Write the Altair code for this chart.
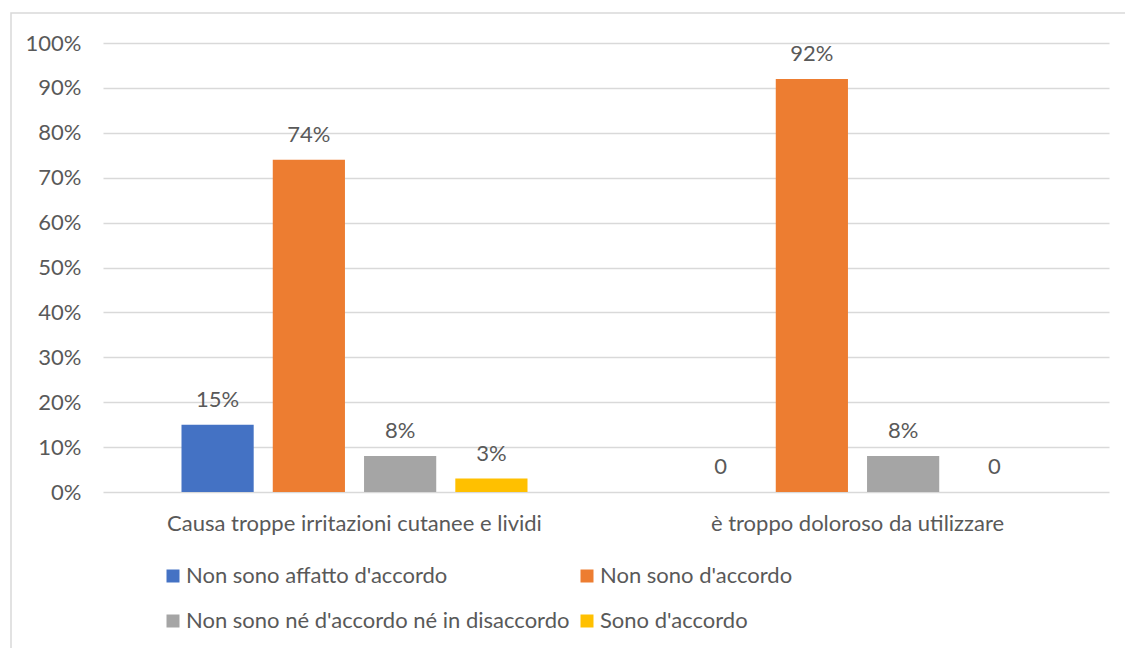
import altair as alt
import pandas as pd

categories = ["Causa troppe irritazioni cutanee e lividi", "è troppo doloroso da utilizzare"]
series = ["Non sono affatto d'accordo", "Non sono d'accordo",
          "Non sono né d'accordo né in disaccordo", "Sono d'accordo"]
values_cat1 = [0.15, 0.74, 0.08, 0.03]
values_cat2 = [0.0, 0.92, 0.08, 0.0]
colors = ["#4472C4", "#ED7D31", "#A5A5A5", "#FFC000"]

rows = []
for cat, vals in zip(categories, [values_cat1, values_cat2]):
    for s, v in zip(series, vals):
        rows.append({"cat": cat, "serie": s, "val": v,
                     "lab": "0" if v == 0 else f"{round(v*100)}%"})
df = pd.DataFrame(rows)

FONT = "Lato"
TXT = "#595959"
GRID = "#D9D9D9"
FS = 22

W, H = 1006, 449
PL, PT = 103, 43
PR = 1125 - PL - W
PB = 648 - PT - H

x = alt.X("cat:N", sort=categories, title=None,
          scale=alt.Scale(paddingInner=0, paddingOuter=0),
          axis=alt.Axis(labelAngle=0, domain=False, ticks=False, labelPadding=21,
                        labelFontSize=FS, labelColor=TXT, labelFont=FONT,
                        labelLimit=800))
xo = alt.XOffset("serie:N", sort=series,
                 scale=alt.Scale(paddingInner=0.209, paddingOuter=0.86))
y = alt.Y("val:Q", title=None,
          scale=alt.Scale(domain=[0, 1], nice=False),
          axis=alt.Axis(format=".0%", values=[i / 10 for i in range(11)],
                        domain=False, ticks=False, labelPadding=22,
                        labelFontSize=FS, labelColor=TXT, labelFont=FONT,
                        gridColor=GRID, gridWidth=1.3))

bars = alt.Chart(df).mark_bar().encode(
    x=x, xOffset=xo, y=y,
    color=alt.Color("serie:N", sort=series, title=None,
                    scale=alt.Scale(domain=series, range=colors),
                    legend=alt.Legend(orient="none", legendX=59, legendY=522,
                                      columns=2, direction="horizontal",
                                      symbolType="square", symbolSize=169,
                                      symbolStrokeWidth=0, symbolOffset=0,
                                      labelFontSize=FS, labelColor=TXT, labelFont=FONT,
                                      labelOffset=2, rowPadding=23, columnPadding=6,
                                      labelLimit=600))
)

labels = alt.Chart(df).mark_text(dy=-25, baseline="middle", fontSize=FS,
                                 color=TXT, font=FONT).encode(
    x=alt.X("cat:N", sort=categories), xOffset=xo, y=alt.Y("val:Q"), text="lab:N")

border = alt.Chart(pd.DataFrame({"a": [0]})).mark_rect(
    fill=None, stroke=GRID, strokeWidth=1.5).encode(
    x=alt.value(11 - PL), x2=alt.value(1135 - PL),
    y=alt.value(13 - PT), y2=alt.value(660 - PT))

chart = alt.layer(border, bars, labels).properties(
    width=W, height=H, autosize="none",
    padding={"left": PL, "top": PT, "right": PR, "bottom": PB},
    background="white"
).configure_view(stroke=None)

chart.save("out.html", embed_options={"renderer": "svg", "actions": False})
